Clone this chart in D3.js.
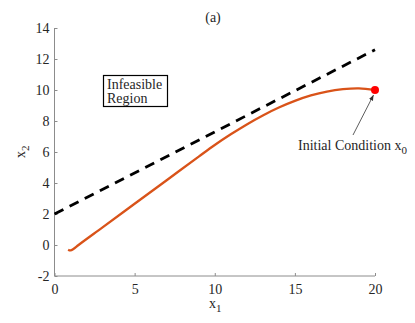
<!DOCTYPE html>
<html>
<head>
<meta charset="utf-8">
<script src="https://cdn.jsdelivr.net/npm/d3@7.9.0/dist/d3.min.js"></script>
<style>
  body { margin: 0; background: #fff; }
  svg text { font-family: "Liberation Serif", "Times New Roman", serif; fill: #262626; }
</style>
</head>
<body>
<svg id="chart" width="415" height="323"></svg>
<script>
// trajectory (orange curve)
const trajX = [0.85, 1.0, 1.2, 1.5, 3, 5, 7, 9, 10, 11, 12, 13, 14, 15, 16, 17, 18, 19, 20];
const trajY = [-0.3, -0.35, -0.24, 0.0, 1.14, 2.66, 4.18, 5.7, 6.45, 7.14, 7.78, 8.36, 8.87, 9.3, 9.65, 9.9, 10.05, 10.1, 10.0];

// constraint boundary (dashed)
const boundX = [0, 20];
const boundY = [2, 12.6];

const x0 = [20, 10]; // initial condition
const xTicks = [0, 5, 10, 15, 20];
const yTicks = [-2, 0, 2, 4, 6, 8, 10, 12, 14];

const svg = d3.select('#chart');
const x = d3.scaleLinear().domain([0, 20]).range([54.5, 375]);
const y = d3.scaleLinear().domain([-2, 14]).range([276, 28]);
const axisColor = '#8c8c8c';

// axes (left + bottom only, ticks pointing in)
const xAxis = svg.append('g').attr('transform', `translate(0,${y(-2)})`)
  .call(d3.axisBottom(x).tickValues(xTicks).tickSize(-3).tickPadding(6).tickFormat(d => String(d)));
const yAxis = svg.append('g').attr('transform', `translate(${x(0)},0)`)
  .call(d3.axisLeft(y).tickValues(yTicks).tickSize(-3).tickPadding(5).tickFormat(d => String(d)));

[xAxis, yAxis].forEach(g => {
  g.select('.domain').attr('stroke', axisColor).attr('d', g === xAxis
    ? `M${x(0)},0H${x(20)}` : `M0,${y(-2)}V${y(14)}`);
  g.selectAll('.tick line').attr('stroke', axisColor);
  g.selectAll('.tick text').attr('font-size', 14).attr('fill', '#262626')
    .style('font-family', '"Liberation Serif", serif');
});
xAxis.selectAll('.tick text').attr('dy', '0.85em');

// boundary line
svg.append('path')
  .datum(boundX.map((d, i) => [d, boundY[i]]))
  .attr('fill', 'none')
  .attr('stroke', '#000')
  .attr('stroke-width', 2.8)
  .attr('stroke-dasharray', '10,7')
  .attr('d', d3.line().x(d => x(d[0])).y(d => y(d[1])));

// trajectory
svg.append('path')
  .datum(trajX.map((d, i) => [d, trajY[i]]))
  .attr('fill', 'none')
  .attr('stroke', '#D95319')
  .attr('stroke-width', 2.3)
  .attr('stroke-linejoin', 'round')
  .attr('d', d3.line().curve(d3.curveCatmullRom).x(d => x(d[0])).y(d => y(d[1])));

svg.append('circle')
  .attr('cx', x(x0[0])).attr('cy', y(x0[1])).attr('r', 4)
  .attr('fill', '#ff0000');

// arrow to initial condition
svg.append('defs').append('marker')
  .attr('id', 'head').attr('viewBox', '0 0 10 10').attr('refX', 10).attr('refY', 5)
  .attr('markerWidth', 7).attr('markerHeight', 7).attr('orient', 'auto')
  .append('path').attr('d', 'M0,1L10,5L0,9Z').attr('fill', '#333');

svg.append('line')
  .attr('x1', 353).attr('y1', 135)
  .attr('x2', x(x0[0]) - 1.5).attr('y2', y(x0[1]) + 5)
  .attr('stroke', '#333').attr('stroke-width', 0.8)
  .attr('marker-end', 'url(#head)');

const ic = svg.append('text').attr('x', 298).attr('y', 150).attr('font-size', 14);
ic.append('tspan').text('Initial Condition x');
ic.append('tspan').attr('dy', 4).attr('font-size', 11).text('0');

// infeasible region box
svg.append('rect')
  .attr('x', 103.5).attr('y', 75.5).attr('width', 64).attr('height', 31)
  .attr('fill', '#fff').attr('stroke', '#000').attr('stroke-width', 1.2);
svg.append('text').attr('x', 107).attr('y', 89).attr('font-size', 14).text('Infeasible');
svg.append('text').attr('x', 107).attr('y', 103).attr('font-size', 14).text('Region');

// title and labels
svg.append('text').attr('x', 213).attr('y', 22).attr('text-anchor', 'middle')
  .attr('font-size', 14).text('(a)');

const xl = svg.append('text').attr('x', 209).attr('y', 308).attr('font-size', 14);
xl.append('tspan').text('x');
xl.append('tspan').attr('dy', 4).attr('font-size', 11).text('1');

const yl = svg.append('text')
  .attr('transform', 'translate(25,158) rotate(-90)').attr('font-size', 14);
yl.append('tspan').text('x');
yl.append('tspan').attr('dy', 4).attr('font-size', 11).text('2');
</script>
</body>
</html>
